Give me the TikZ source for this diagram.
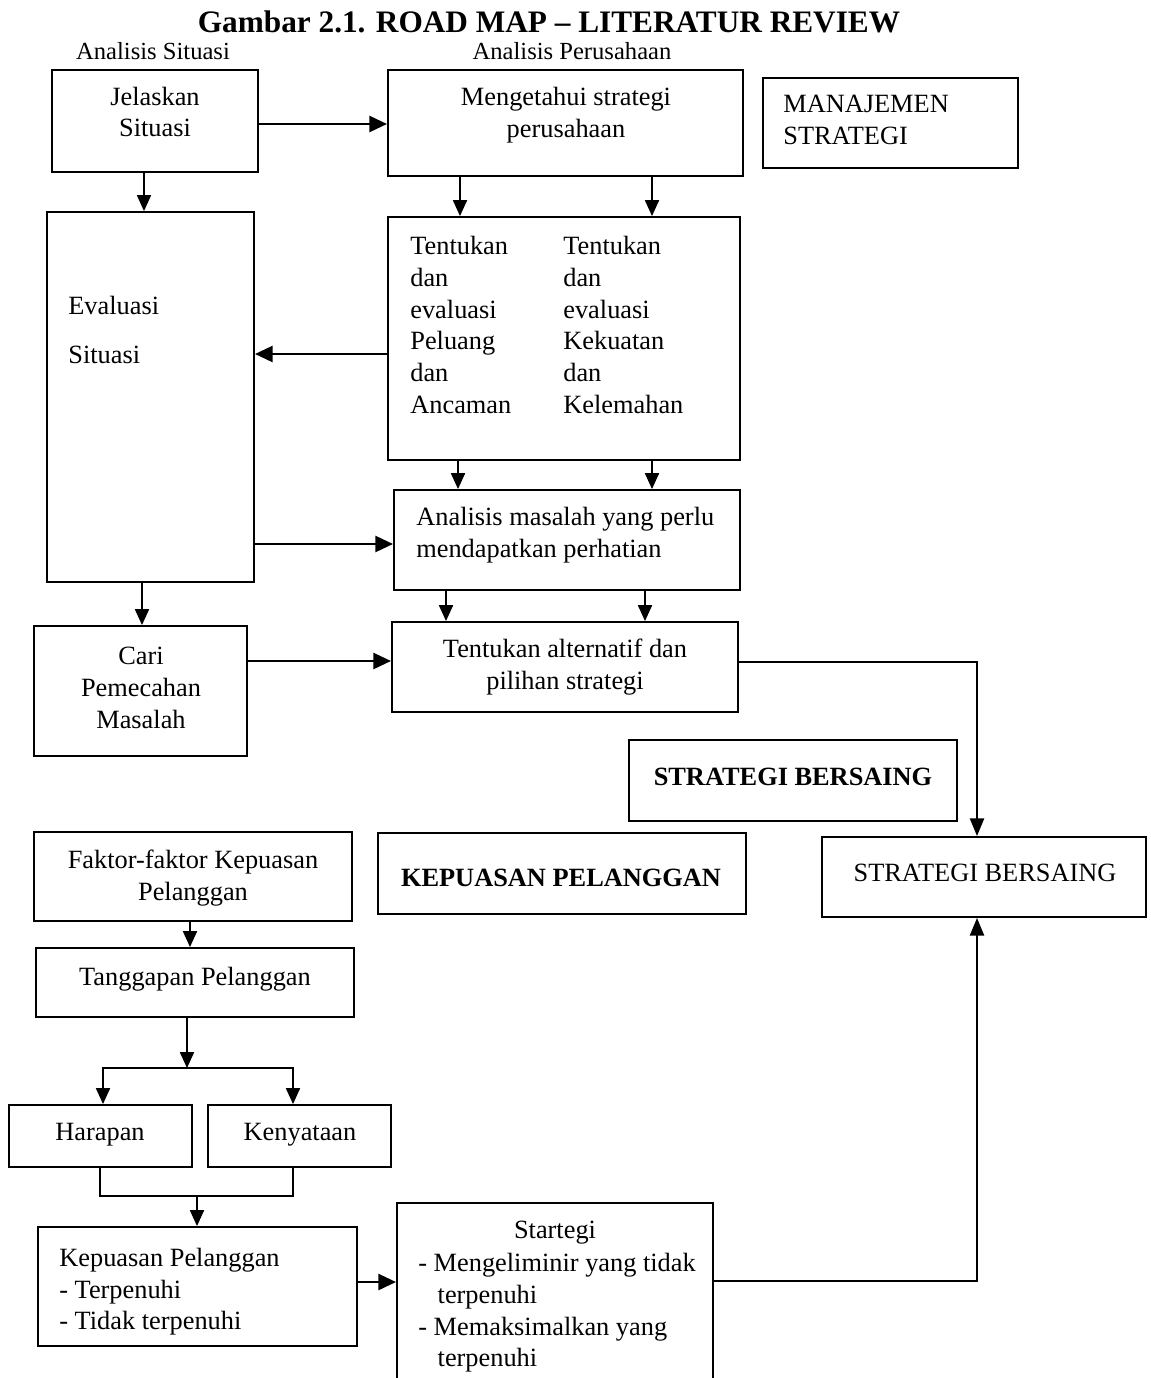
\documentclass[tikz,border=0pt]{standalone}
\usepackage{fontspec}
\setmainfont{Liberation Serif}
\usetikzlibrary{arrows.meta,fit}

\begin{document}
\begin{tikzpicture}[x=0.02cm,y=-0.02cm,font=\fontsize{15}{18}\selectfont,
  box/.style={draw,line width=1.1pt,inner sep=0pt},
  txt/.style={align=left,inner sep=0pt},
  ctxt/.style={align=center,inner sep=0pt},
  boldtxt/.style={font=\fontsize{15}{18}\selectfont\bfseries},
  arr/.style={-{Triangle[length=9pt,width=8pt]},line width=0.8pt},
  harr/.style={-{Triangle[length=10pt,width=9pt]},line width=1.6pt},
  larr/.style={-{Triangle[length=10pt,width=8pt]},line width=1.1pt}]
\useasboundingbox (0,0) rectangle (1150,1378);
% ---------- heading ----------
\node[font=\fontsize{17.8}{20}\selectfont\bfseries,inner sep=0pt] (title) at (549,22) {Gambar 2.1. ROAD MAP \textendash{} LITERATUR REVIEW};
\node[font=\fontsize{14}{16}\selectfont,inner sep=0pt] (headsit) at (153,51) {Analisis Situasi};
\node[font=\fontsize{14}{16}\selectfont,inner sep=0pt] (headper) at (572,51) {Analisis Perusahaan};
% ---------- upper part: situation and company analysis ----------
\node[box,fit={(52,70)(258,172)}] (jelas) {};
\node[ctxt] (jelastxt) at (155,112) {Jelaskan\\Situasi};
\node[box,fit={(388,70)(743,176)}] (menget) {};
\node[ctxt] (mengettxt) at (566,115) {Mengetahui strategi\\perusahaan};
\node[box,fit={(763,78)(1018,168)}] (manaj) {};
\node[txt,anchor=west] (manajtxt) at (783,120) {MANAJEMEN\\STRATEGI};
\node[box,fit={(47,212)(254,582)}] (eval) {};
\node[txt,anchor=west] (evaltxt) at (68,330) {Evaluasi\\[9.5pt]Situasi};
\node[box,fit={(388,217)(740,460)}] (tent) {};
\node[txt,anchor=west] (tentpel) at (410,325) {Tentukan\\dan\\evaluasi\\Peluang\\dan\\Ancaman};
\node[txt,anchor=west] (tentkek) at (563,325) {Tentukan\\dan\\evaluasi\\Kekuatan\\dan\\Kelemahan};
\node[box,fit={(394,490)(740,590)}] (anal) {};
\node[txt,anchor=west] (analtxt) at (416,535) {Analisis masalah yang perlu\\mendapatkan perhatian};
\node[box,fit={(34,626)(247,756)}] (cari) {};
\node[ctxt] (caritxt) at (141,688) {Cari\\Pemecahan\\Masalah};
\node[box,fit={(392,622)(738,712)}] (tentalt) {};
\node[ctxt] (tentalttxt) at (565,667) {Tentukan alternatif dan\\pilihan strategi};
\node[box,fit={(629,740)(957,821)}] (strbold) {};
\node[ctxt,boldtxt] (strboldtxt) at (793,777) {STRATEGI BERSAING};
% ---------- lower part: customer satisfaction ----------
\node[box,fit={(34,832)(352,921)}] (faktor) {};
\node[ctxt] (faktortxt) at (193,878) {Faktor-faktor Kepuasan\\Pelanggan};
\node[box,fit={(378,833)(746,914)}] (kepbold) {};
\node[ctxt,boldtxt] (kepboldtxt) at (561,878) {KEPUASAN PELANGGAN};
\node[box,fit={(822,837)(1146,917)}] (strat) {};
\node[ctxt] (strattxt) at (985,873) {STRATEGI BERSAING};
\node[box,fit={(36,948)(354,1017)}] (tangg) {};
\node[ctxt] (tanggtxt) at (195,979) {Tanggapan Pelanggan};
\node[box,fit={(9,1105)(192,1167)}] (harap) {};
\node[ctxt] (haraptxt) at (100,1135) {Harapan};
\node[box,fit={(208,1105)(391,1167)}] (kenyat) {};
\node[ctxt] (kenyattxt) at (300,1135) {Kenyataan};
\node[box,fit={(38,1227)(357,1346)}] (kepuas) {};
\node[txt,anchor=west] (kepuastxt) at (59,1292) {Kepuasan Pelanggan\\- Terpenuhi\\- Tidak terpenuhi};
\node[box,fit={(397,1203)(713,1420)}] (startg) {};
\node (startgtitle) at (555,1233) {Startegi};
\node[txt,anchor=west] (startglist) at (418,1313) {- Mengeliminir yang tidak\\\hspace*{11pt}terpenuhi\\- Memaksimalkan yang\\\hspace*{11pt}terpenuhi};
% ---------- connectors, upper part ----------
\draw[harr] (jelas.east |- 0,124) -- (menget.west |- 0,124);
\draw[arr] (jelas.south -| 144,0) -- (eval.north -| 144,0);
\foreach \x in {460,652}{
  \draw[arr] (menget.south -| \x,0) -- (tent.north -| \x,0);}
\draw[harr] (tent.west |- 0,354) -- (eval.east |- 0,354);
\foreach \x in {458,652}{
  \draw[arr] (tent.south -| \x,0) -- (anal.north -| \x,0);}
\draw[harr] (eval.east |- 0,544) -- (anal.west |- 0,544);
\draw[arr] (eval.south -| 142,0) -- (cari.north -| 142,0);
\foreach \x in {446,645}{
  \draw[arr] (anal.south -| \x,0) -- (tentalt.north -| \x,0);}
\draw[harr] (cari.east |- 0,661) -- (tentalt.west |- 0,661);
\draw[larr] (tentalt.east |- 0,662) -| (strat.north -| 977,0);
% ---------- connectors, lower part ----------
\draw[arr] (faktor.south -| 190,0) -- (tangg.north -| 190,0);
\coordinate (split) at (187,1068);
\draw[arr] (tangg.south -| split) -- (split);
\draw[arr] (split) -| (harap.north -| 103,0);
\draw[arr] (split) -| (kenyat.north -| 293,0);
\coordinate (merge) at (197,1196);
\draw[line width=0.8pt] (harap.south -| 100,0) |- (merge) -| (kenyat.south -| 293,0);
\draw[arr] (merge) -- (kepuas.north -| merge);
\draw[harr] (kepuas.east |- 0,1282) -- (startg.west |- 0,1282);
\draw[larr] (startg.east |- 0,1281) -| (strat.south -| 977,0);
\end{tikzpicture}
\end{document}
